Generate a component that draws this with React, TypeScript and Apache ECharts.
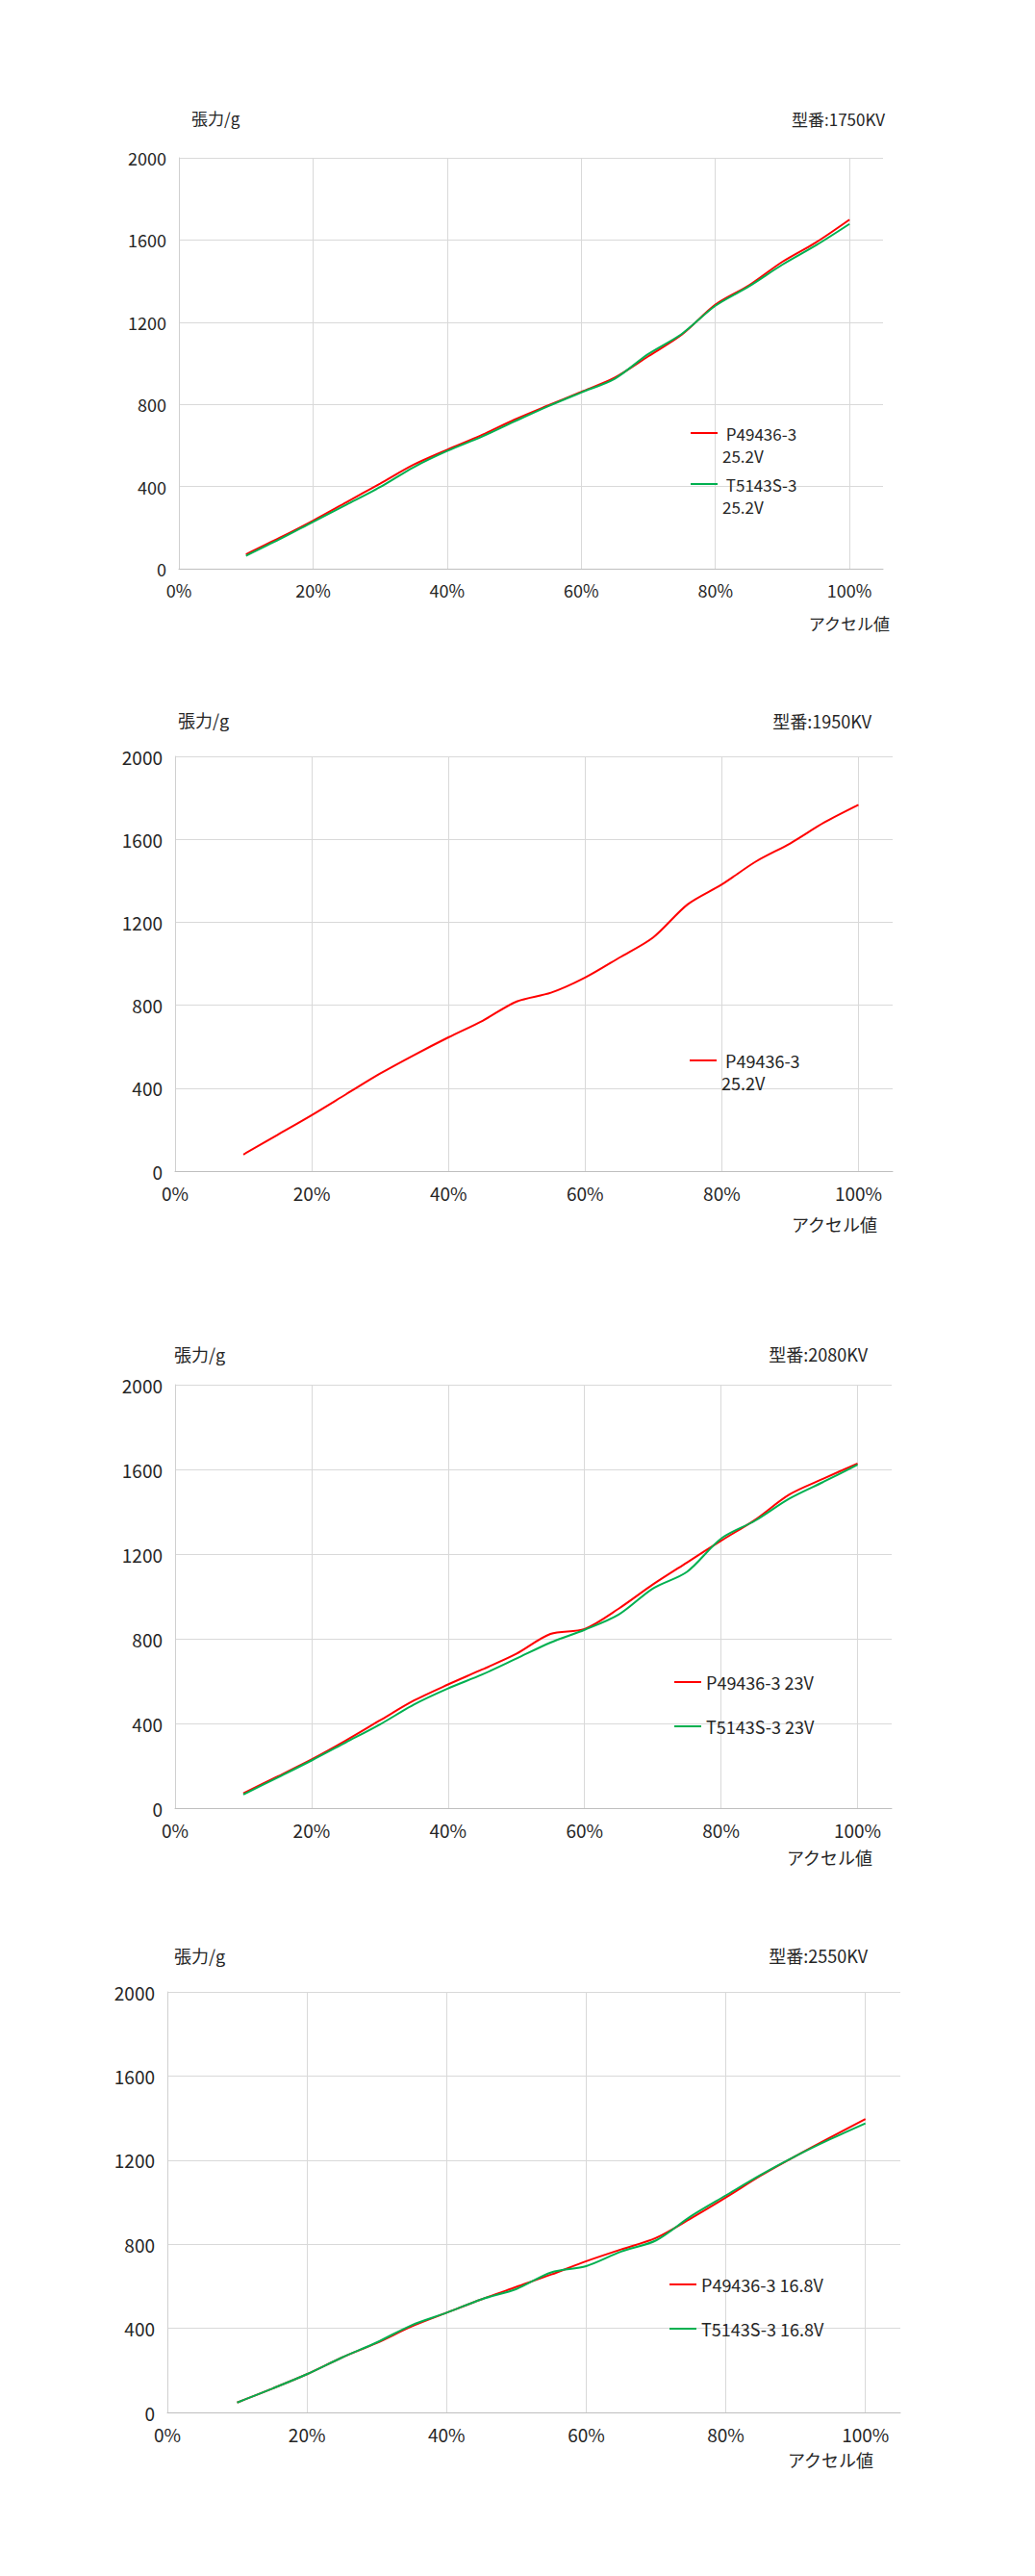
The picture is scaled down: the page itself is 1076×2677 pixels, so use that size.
import React, { useEffect, useRef } from 'react';
import * as echarts from 'echarts';

// ---- data ----
const ACCEL = [10, 15, 20, 25, 30, 35, 40, 45, 50, 55, 60, 65, 70, 75, 80, 85, 90, 95, 100];

const C1_MODEL = '型番:1750KV';
const C1_NAMES = ['P49436-3 25.2V', 'T5143S-3 25.2V'];
const C1_P = [70, 150, 234, 324, 414, 506, 579, 648, 725, 794, 861, 930, 1034, 1139, 1285, 1379, 1494, 1588, 1699];
const C1_T = [63, 143, 228, 312, 397, 494, 573, 640, 716, 790, 858, 925, 1045, 1143, 1280, 1374, 1480, 1574, 1678];

const C2_MODEL = '型番:1950KV';
const C2_NAMES = ['P49436-3 25.2V'];
const C2_P = [80, 175, 270, 370, 470, 560, 645, 725, 818, 860, 933, 1029, 1128, 1286, 1382, 1493, 1580, 1681, 1766];

const C3_MODEL = '型番:2080KV';
const C3_NAMES = ['P49436-3 23V', 'T5143S-3 23V'];
const C3_P = [70, 149, 230, 319, 414, 508, 584, 655, 729, 823, 846, 942, 1056, 1160, 1263, 1362, 1481, 1556, 1628];
const C3_T = [64, 144, 225, 310, 395, 489, 565, 631, 706, 782, 842, 914, 1037, 1116, 1273, 1358, 1462, 1541, 1622];

const C4_MODEL = '型番:2550KV';
const C4_NAMES = ['P49436-3 16.8V', 'T5143S-3 16.8V'];
const C4_P = [47, 113, 182, 261, 330, 409, 474, 538, 597, 656, 719, 775, 830, 923, 1022, 1126, 1219, 1308, 1395];
const C4_T = [47, 113, 182, 261, 333, 415, 474, 538, 587, 666, 696, 765, 818, 933, 1032, 1130, 1219, 1300, 1375];

const Y_MIN = 0;
const Y_MAX = 2000;
const Y_STEP = 400;
const X_MIN = 0;
const X_MAX = 105;
const X_STEP = 20;
const Y_LABEL = '張力/g';
const X_LABEL = 'アクセル値';

const COLORS = ['#ff0000', '#00b050'];
const FONT = "'Noto Sans CJK JP', 'Noto Sans', sans-serif";
const TEXT = '#262626';

type Cfg = {
  top: number;
  height: number;
  model: string;
  names: string[];
  values: number[][];
  grid: { left: number; top: number; width: number; height: number };
  yName: { x: number; y: number };
  title: { x: number; y: number };
  xName: { x: number; y: number };
  legend: { x: number; ys: number[]; twoLine: boolean };
  fs: number;
};

const CHARTS: Cfg[] = [
  {
    top: 0, height: 680, model: C1_MODEL, names: C1_NAMES, values: [C1_P, C1_T],
    grid: { left: 186, top: 164, width: 732, height: 427 },
    yName: { x: 199, y: 122 }, title: { x: 920, y: 123 }, xName: { x: 925, y: 647 },
    legend: { x: 718, ys: [450, 503], twoLine: true }, fs: 18,
  },
  {
    top: 680, height: 650, model: C2_MODEL, names: C2_NAMES, values: [C2_P],
    grid: { left: 182, top: 106, width: 746, height: 431 },
    yName: { x: 185, y: 68 }, title: { x: 906, y: 69 }, xName: { x: 912, y: 592 },
    legend: { x: 717, ys: [422], twoLine: true }, fs: 19,
  },
  {
    top: 1330, height: 650, model: C3_MODEL, names: C3_NAMES, values: [C3_P, C3_T],
    grid: { left: 182, top: 109, width: 745, height: 440 },
    yName: { x: 181, y: 77 }, title: { x: 902, y: 77 }, xName: { x: 907, y: 600 },
    legend: { x: 701, ys: [418, 464], twoLine: false }, fs: 19,
  },
  {
    top: 1980, height: 697, model: C4_MODEL, names: C4_NAMES, values: [C4_P, C4_T],
    grid: { left: 174, top: 90, width: 762, height: 437 },
    yName: { x: 181, y: 52 }, title: { x: 902, y: 52 }, xName: { x: 908, y: 576 },
    legend: { x: 696, ys: [394, 440], twoLine: false }, fs: 19,
  },
];

function legendText(name: string, twoLine: boolean): string {
  if (!twoLine) return name;
  const i = name.lastIndexOf(' ');
  return '\n ' + name.slice(0, i) + '\n' + name.slice(i + 1);
}

function buildOption(c: Cfg) {
  const lineH = 23;
  const lines = c.legend.twoLine ? 3 : 1;
  const txt = (text: string, x: number, y: number, align: string) => ({
    type: 'text',
    x,
    y,
    style: { text, fill: TEXT, fontSize: c.fs - 1, fontFamily: FONT, align, verticalAlign: 'middle' },
  });
  return {
    animation: false,
    backgroundColor: '#ffffff',
    textStyle: { fontFamily: FONT },
    grid: { ...c.grid, containLabel: false, outerBoundsMode: 'none' },
    xAxis: {
      type: 'value',
      min: X_MIN,
      max: X_MAX,
      interval: X_STEP,
      axisLine: { show: true, lineStyle: { color: '#bfbfbf', width: 1 } },
      axisTick: { show: false },
      axisLabel: {
        color: TEXT, fontSize: c.fs, fontFamily: FONT, margin: 13,
        showMaxLabel: false,
        formatter: (v: number) => (v > 100 ? '' : v + '%'),
      },
      splitLine: { show: true, showMaxLine: false, lineStyle: { color: '#d9d9d9', width: 1 } },
    },
    yAxis: {
      type: 'value',
      min: Y_MIN,
      max: Y_MAX,
      interval: Y_STEP,
      axisLine: { show: true, lineStyle: { color: '#d0d0d0', width: 1 } },
      axisTick: { show: false },
      axisLabel: {
        color: TEXT, fontSize: c.fs, fontFamily: FONT, margin: 13,
        formatter: (v: number) => String(v),
      },
      splitLine: { show: true, lineStyle: { color: '#d9d9d9', width: 1 } },
    },
    legend: c.names.map((n, i) => ({
      data: [{ name: n, icon: 'rect', itemStyle: { color: COLORS[i] } }],
      orient: 'vertical',
      left: c.legend.x,
      top: c.legend.ys[i] - (lines * lineH) / 2,
      padding: 0,
      itemWidth: 28,
      itemHeight: 2,
      selectedMode: false,
      formatter: (name: string) => legendText(name, c.legend.twoLine),
      textStyle: { color: TEXT, fontSize: c.fs - 1, fontFamily: FONT, lineHeight: lineH },
    })),
    graphic: [
      txt(Y_LABEL, c.yName.x, c.yName.y, 'left'),
      txt(c.model, c.title.x, c.title.y, 'right'),
      txt(X_LABEL, c.xName.x, c.xName.y, 'right'),
    ],
    series: c.names.map((n, i) => ({
      name: n,
      type: 'line',
      data: ACCEL.map((x, k) => [x, c.values[i][k]]),
      smooth: 0.3,
      symbol: 'none',
      lineStyle: { color: COLORS[i], width: 2 },
      itemStyle: { color: COLORS[i] },
    })),
  };
}

function Chart({ cfg }: { cfg: Cfg }) {
  const ref = useRef<HTMLDivElement>(null);
  useEffect(() => {
    if (!ref.current) return;
    const chart = echarts.init(ref.current, null, { renderer: 'svg' });
    chart.setOption(buildOption(cfg) as any);
    return () => chart.dispose();
  }, [cfg]);
  return (
    <div
      ref={ref}
      style={{ position: 'absolute', left: 0, top: cfg.top, width: 1076, height: cfg.height }}
    />
  );
}

export default function App() {
  return (
    <div style={{ position: 'absolute', left: 0, top: 0, width: 1076, height: 2677, background: '#ffffff' }}>
      {CHARTS.map((c, i) => (
        <Chart key={i} cfg={c} />
      ))}
    </div>
  );
}
